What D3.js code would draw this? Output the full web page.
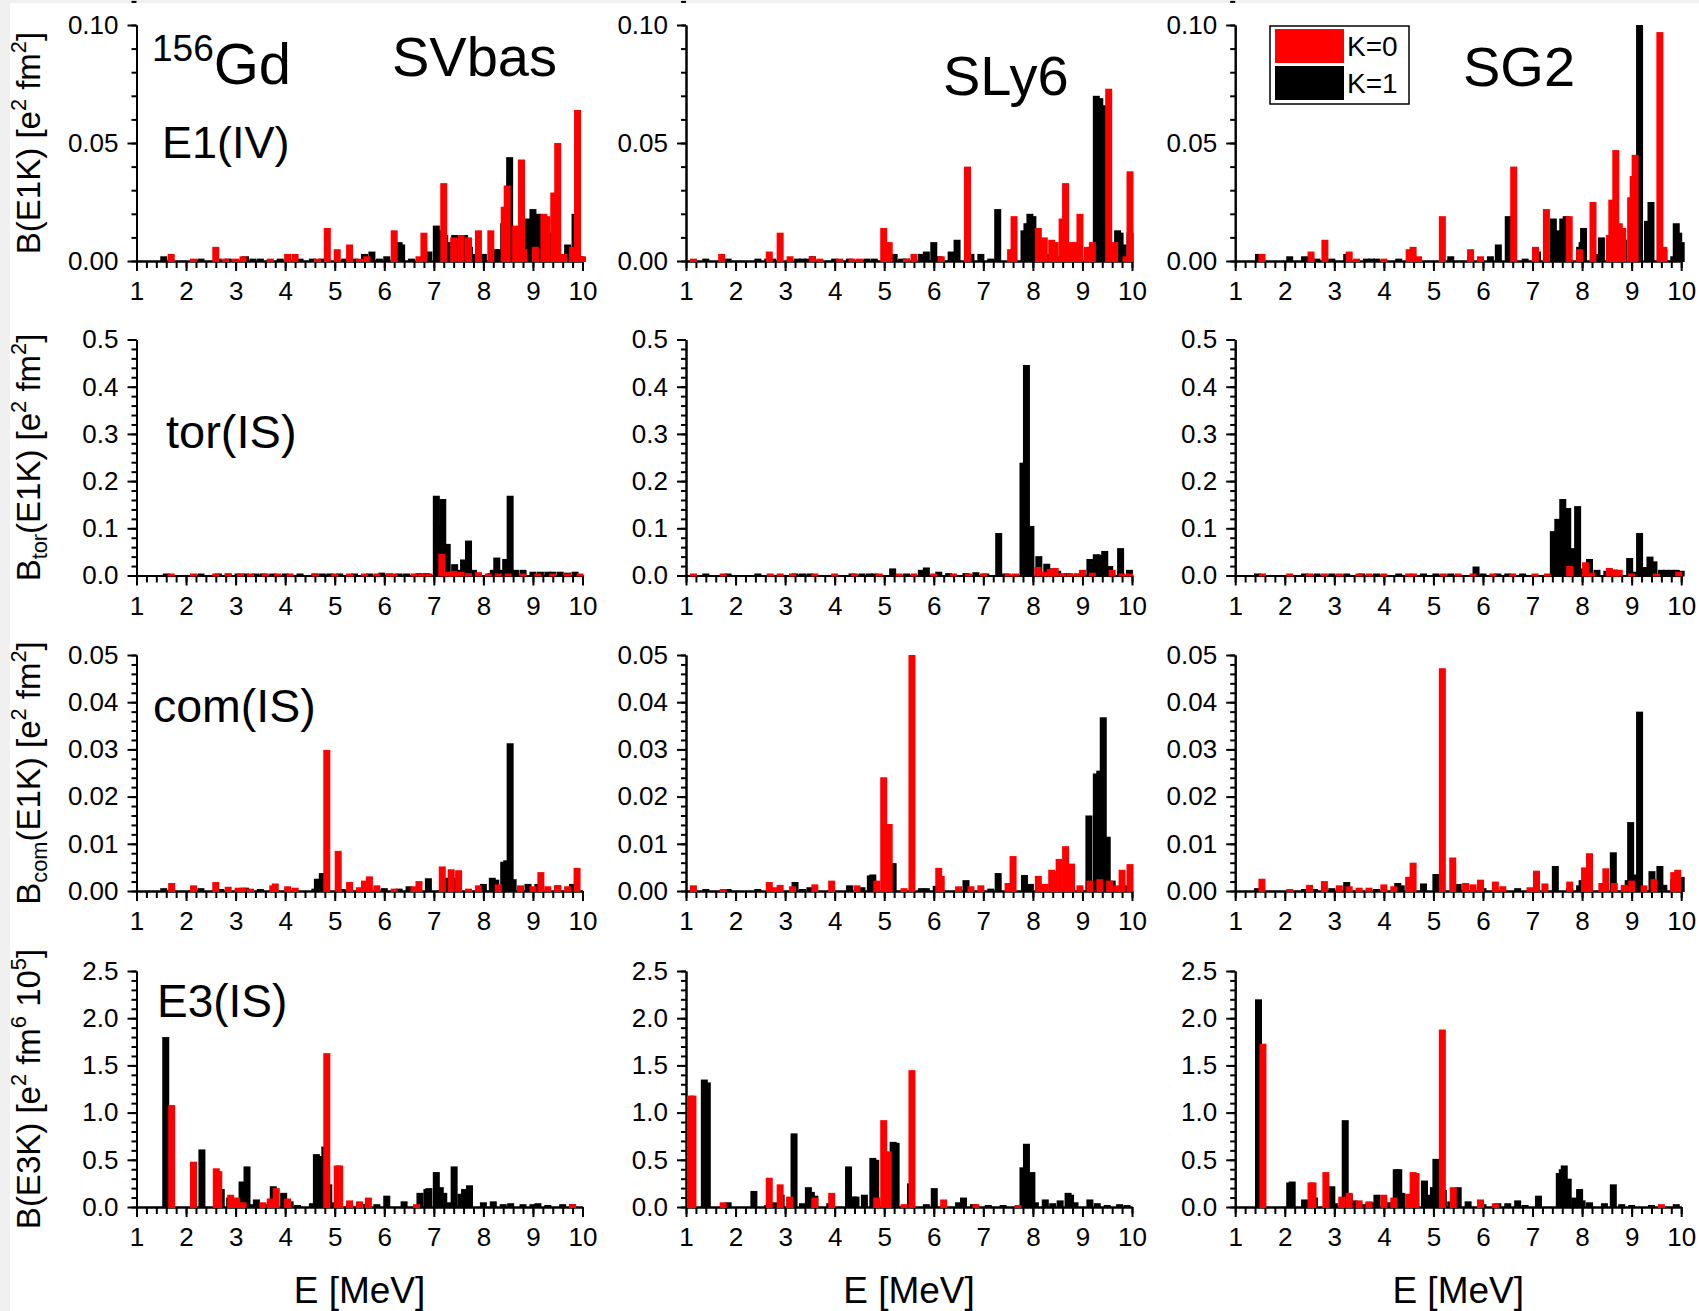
<!DOCTYPE html>
<html>
<head>
<meta charset="utf-8">
<script src="https://cdn.jsdelivr.net/npm/d3@7"></script>
<style>
body { margin: 0; background: #f0f0f0; }
svg { display: block; font-family: "Liberation Sans", Arial, sans-serif; }
</style>
</head>
<body>
<svg width="1699" height="1311"></svg>
<script>
'use strict';
// ---- data: [E (MeV), B] pairs, K=0 (red) and K=1 (black)
// row 1: B(E1K), isovector E1
let svbasE1K0 = [[1.7,.003],[2.15,.001],[2.6,.006],[2.8,.001],[3.0,.001],[3.15,.002],[3.7,.001],[4.05,.003],[4.2,.003],[4.65,.001],[4.85,.014],[5.05,.005],[5.3,.007],[5.5,.001],[5.65,.002],[6.2,.013],[6.7,.002],[6.8,.012],[7.2,.033],[7.4,.010],[7.55,.011],[7.7,.010],[7.9,.013],[8.15,.013],[8.42,.023],[8.48,.032],[8.65,.015],[8.77,.043],[8.82,.005],[9.05,.006],[9.22,.020],[9.28,.019],[9.42,.029],[9.5,.050],[9.62,.003],[9.8,.006],[9.9,.064],[10.0,.002]]
let svbasE1K1 = [[1.55,.002],[2.3,.001],[2.65,.001],[2.85,.001],[3.2,.002],[3.35,.001],[3.5,.001],[3.9,.001],[4.3,.001],[4.55,.001],[4.75,.001],[5.2,.001],[5.4,.001],[5.6,.003],[5.75,.004],[5.9,.001],[6.05,.002],[6.3,.008],[6.35,.007],[6.55,.001],[6.9,.004],[7.05,.015],[7.12,.013],[7.22,.011],[7.32,.008],[7.42,.011],[7.52,.004],[7.62,.011],[7.72,.006],[7.85,.003],[8.0,.003],[8.25,.005],[8.33,.005],[8.41,.016],[8.53,.044],[8.6,.006],[8.7,.005],[8.9,.018],[9.0,.022],[9.1,.020],[9.18,.019],[9.3,.011],[9.38,.012],[9.55,.002],[9.7,.007],[9.75,.006],[9.85,.020],[9.95,.002]]
let sly6E1K0 = [[1.15,.001],[1.72,.003],[2.68,.004],[2.9,.012],[3.1,.002],[3.55,.002],[3.7,.001],[4.1,.001],[4.35,.001],[4.5,.001],[4.99,.014],[5.1,.008],[5.45,.001],[5.6,.003],[6.15,.002],[6.68,.040],[7.55,.005],[7.62,.019],[8.11,.014],[8.23,.010],[8.38,.009],[8.45,.008],[8.59,.018],[8.66,.033],[8.78,.008],[8.85,.008],[8.95,.020],[9.1,.006],[9.2,.008],[9.53,.073],[9.65,.008],[9.88,.002],[9.96,.038]]
let sly6E1K1 = [[1.4,.001],[1.85,.001],[2.45,.001],[2.65,.001],[2.75,.001],[3.25,.001],[3.35,.001],[3.45,.001],[3.55,.002],[4.0,.001],[4.3,.001],[4.65,.001],[4.8,.001],[5.2,.003],[5.35,.001],[5.45,.001],[5.75,.003],[5.85,.004],[6.0,.008],[6.1,.002],[6.35,.004],[6.47,.009],[6.75,.003],[6.95,.003],[7.15,.001],[7.29,.022],[7.82,.013],[7.88,.016],[7.94,.020],[8.0,.019],[8.15,.003],[8.35,.003],[8.5,.002],[8.9,.004],[9.28,.070],[9.35,.069],[9.42,.066],[9.48,.045],[9.71,.013],[9.76,.012],[9.82,.007],[9.96,.012]]
let sg2E1K0 = [[1.54,.003],[2.53,.004],[2.81,.009],[3.3,.004],[3.45,.001],[4.0,.001],[4.51,.005],[4.59,.006],[4.7,.002],[5.18,.019],[5.75,.005],[5.95,.002],[6.62,.040],[7.06,.006],[7.28,.022],[7.74,.019],[7.95,.005],[8.22,.025],[8.55,.011],[8.6,.026],[8.68,.047],[8.75,.016],[8.82,.014],[8.98,.027],[9.03,.036],[9.07,.045],[9.57,.097],[9.65,.006]]
let sg2E1K1 = [[1.47,.003],[2.1,.002],[2.4,.002],[2.65,.001],[2.95,.001],[3.25,.003],[3.65,.001],[3.75,.001],[3.85,.001],[4.3,.001],[5.35,.002],[5.75,.002],[6.15,.002],[6.31,.007],[6.51,.019],[6.85,.001],[7.1,.004],[7.42,.018],[7.51,.013],[7.61,.018],[7.68,.019],[7.95,.006],[8.0,.008],[8.03,.014],[8.25,.003],[8.39,.010],[8.7,.003],[8.84,.009],[9.08,.014],[9.16,.100],[9.32,.017],[9.39,.025],[9.65,.005],[9.85,.002],[9.9,.016],[9.95,.012],[10.0,.008]]

// row 2: toroidal E1
let svbasTorK0 = [[1.7,.003],[2.15,.003],[2.6,.003],[2.85,.003],[3.1,.003],[3.3,.003],[3.6,.003],[3.85,.003],[4.1,.003],[4.6,.003],[5.0,.003],[5.3,.003],[5.6,.003],[5.85,.003],[6.1,.003],[6.2,.004],[6.6,.003],[6.75,.004],[6.9,.004],[7.16,.046],[7.3,.008],[7.4,.010],[7.55,.008],[7.7,.005],[7.9,.007],[8.1,.004],[8.3,.004],[8.5,.004],[8.8,.004],[9.1,.004],[9.4,.004],[9.7,.004],[9.95,.004]]
let svbasTorK1 = [[1.6,.002],[2.3,.002],[2.65,.002],[2.85,.002],[3.05,.002],[3.2,.003],[3.4,.002],[3.55,.002],[3.75,.002],[4.0,.002],[4.3,.003],[4.6,.003],[4.75,.004],[4.9,.004],[5.1,.003],[5.4,.002],[5.7,.002],[5.95,.006],[6.1,.003],[6.3,.003],[6.45,.004],[6.7,.005],[6.85,.005],[7.05,.169],[7.1,.106],[7.18,.162],[7.27,.067],[7.42,.024],[7.55,.012],[7.6,.034],[7.7,.074],[7.8,.012],[8.15,.005],[8.2,.012],[8.27,.038],[8.35,.012],[8.45,.035],[8.54,.169],[8.65,.012],[8.8,.012],[9.0,.008],[9.15,.008],[9.3,.008],[9.4,.008],[9.55,.008],[9.7,.006],[9.85,.008]]
let sly6TorK0 = [[1.15,.003],[1.75,.003],[2.7,.003],[2.9,.003],[3.15,.003],[3.6,.003],[4.0,.003],[4.4,.003],[4.9,.003],[5.3,.003],[5.6,.003],[6.0,.003],[6.4,.003],[6.7,.003],[7.0,.003],[7.5,.003],[7.65,.003],[8.1,.018],[8.25,.008],[8.35,.014],[8.45,.016],[8.6,.005],[8.75,.005],[8.9,.005],[9.0,.012],[9.2,.006],[9.6,.012],[9.8,.004],[9.95,.004]]
let sly6TorK1 = [[1.4,.002],[1.85,.002],[2.45,.002],[3.2,.002],[3.35,.002],[3.5,.002],[4.35,.003],[4.55,.003],[4.7,.004],[4.8,.004],[5.17,.015],[5.45,.003],[5.75,.012],[5.85,.017],[6.1,.008],[6.3,.005],[6.65,.005],[6.85,.007],[7.05,.003],[7.31,.090],[7.45,.004],[7.8,.239],[7.87,.446],[7.96,.105],[8.12,.041],[8.28,.025],[8.4,.015],[8.5,.010],[8.7,.005],[9.15,.035],[9.28,.045],[9.35,.044],[9.45,.052],[9.55,.020],[9.77,.058],[9.95,.012]]
let sg2TorK0 = [[1.55,.003],[2.1,.003],[2.5,.003],[2.8,.003],[3.1,.003],[3.5,.003],[3.7,.003],[4.0,.003],[4.5,.003],[4.6,.003],[5.2,.003],[5.5,.003],[5.8,.003],[6.2,.003],[6.6,.003],[7.05,.003],[7.3,.003],[7.75,.020],[8.07,.028],[8.2,.006],[8.55,.016],[8.65,.013],[8.75,.012],[9.0,.004],[9.5,.004],[9.95,.008]]
let sg2TorK1 = [[1.45,.002],[2.4,.002],[2.65,.002],[2.95,.002],[3.25,.003],[3.55,.002],[3.85,.002],[4.3,.003],[4.8,.002],[5.05,.004],[5.35,.004],[5.86,.019],[6.0,.004],[6.3,.004],[6.5,.004],[6.8,.003],[7.42,.094],[7.51,.120],[7.61,.162],[7.71,.143],[7.82,.058],[7.91,.147],[8.05,.015],[8.15,.035],[8.3,.012],[8.5,.010],[8.96,.037],[9.05,.008],[9.16,.090],[9.3,.018],[9.37,.040],[9.45,.030],[9.6,.012],[9.7,.012],[9.8,.012],[9.9,.012],[10.0,.010]]

// row 3: compressional E1
let svbasComK0 = [[1.71,.0017],[2.15,.0012],[2.6,.0019],[2.85,.0009],[3.05,.0007],[3.15,.0007],[3.3,.0005],[3.75,.0012],[3.8,.0016],[4.05,.0010],[4.2,.0007],[4.84,.0299],[5.07,.0085],[5.3,.0019],[5.5,.0008],[5.6,.0022],[5.7,.0031],[5.85,.0012],[6.2,.0005],[6.6,.0010],[6.7,.0021],[7.17,.0052],[7.35,.0046],[7.5,.0044],[7.7,.0005],[7.9,.0012],[8.3,.0014],[8.75,.0012],[9.0,.0010],[9.16,.0040],[9.3,.0010],[9.5,.0012],[9.7,.0010],[9.89,.0049]]
let svbasComK1 = [[1.55,.0006],[2.3,.0006],[2.7,.0004],[3.2,.0007],[3.5,.0004],[4.6,.0005],[4.65,.0026],[4.75,.0038],[4.8,.0012],[5.15,.0004],[6.0,.0006],[6.3,.0005],[6.5,.0010],[6.89,.0027],[7.3,.0028],[7.4,.0028],[8.0,.0015],[8.18,.0028],[8.25,.0024],[8.41,.0062],[8.47,.0065],[8.54,.0313],[8.6,.0025],[8.9,.0015],[9.1,.0015],[9.5,.0012],[9.8,.0015]]
let sly6ComK0 = [[1.15,.0012],[1.75,.0003],[2.68,.0019],[2.8,.0008],[2.9,.0013],[3.15,.0010],[3.6,.0014],[3.94,.0022],[4.45,.0012],[4.85,.0022],[4.99,.0241],[5.1,.0142],[5.4,.0006],[5.56,.050],[6.1,.0049],[6.15,.0032],[6.5,.0010],[6.75,.0010],[6.95,.0012],[7.5,.0017],[7.6,.0074],[8.11,.0032],[8.25,.0015],[8.38,.0045],[8.45,.0042],[8.53,.0068],[8.66,.0095],[8.78,.0058],[8.95,.0012],[9.15,.0022],[9.35,.0025],[9.55,.0022],[9.7,.0012],[9.8,.0045],[9.96,.0057]]
let sly6ComK1 = [[1.4,.0004],[1.85,.0003],[2.45,.0003],[3.2,.0019],[3.35,.0004],[3.5,.0008],[4.3,.0012],[4.55,.0008],[4.72,.0033],[4.77,.0035],[5.18,.0059],[5.75,.0006],[5.85,.0006],[6.05,.0011],[6.65,.0023],[7.15,.0005],[7.3,.0038],[7.83,.0034],[7.95,.0015],[8.2,.0011],[9.13,.0160],[9.28,.0249],[9.35,.0255],[9.42,.0368],[9.5,.0115],[9.6,.0022],[9.9,.0012]]
let sg2ComK0 = [[1.54,.0026],[2.1,.0004],[2.5,.0013],[2.8,.0021],[3.1,.0012],[3.3,.0010],[3.5,.0007],[3.7,.0007],[4.0,.0014],[4.2,.0010],[4.5,.0030],[4.59,.0060],[5.18,.0472],[5.39,.0071],[5.65,.0017],[5.8,.0014],[5.95,.0024],[6.25,.0020],[6.4,.0010],[6.95,.0008],[7.08,.0043],[7.25,.0016],[7.75,.0020],[8.05,.0050],[8.15,.0080],[8.4,.0017],[8.48,.0048],[8.65,.0017],[8.85,.0013],[9.0,.0022],[9.25,.0012],[9.45,.0025],[9.85,.0040],[9.93,.0045]]
let sg2ComK1 = [[1.45,.0006],[2.4,.0004],[2.6,.0003],[2.95,.0006],[3.25,.0019],[3.85,.0004],[4.28,.0017],[4.35,.0012],[4.8,.0016],[5.05,.0036],[5.5,.0015],[6.0,.0006],[6.7,.0006],[7.46,.0053],[7.75,.0006],[7.95,.0012],[8.0,.0023],[8.63,.0082],[8.93,.0023],[8.98,.0146],[9.05,.0035],[9.16,.0380],[9.41,.0042],[9.57,.0053],[9.65,.0013],[9.85,.0025],[9.9,.0033],[10.0,.0030]]

// row 4: B(E3K), isoscalar E3 (units e^2 fm^6 10^5)
let svbasE3K0 = [[1.71,1.08],[2.15,0.48],[2.61,0.41],[2.66,0.38],[2.9,0.13],[3.02,0.10],[3.15,0.05],[3.55,0.05],[3.7,0.09],[3.82,0.20],[4.05,0.09],[4.84,1.63],[5.05,0.44],[5.1,0.44],[5.3,0.07],[5.5,0.06],[5.68,0.10],[6.65,0.03],[9.8,0.03]]
let svbasE3K1 = [[1.59,1.80],[2.32,0.61],[2.63,0.25],[2.71,0.19],[2.88,0.10],[2.95,0.09],[3.13,0.27],[3.23,0.43],[3.3,0.03],[3.42,0.08],[3.6,0.03],[3.76,0.22],[3.8,0.19],[3.97,0.15],[4.1,0.06],[4.25,0.02],[4.55,0.04],[4.63,0.56],[4.7,0.54],[4.8,0.64],[4.88,0.24],[5.0,0.05],[5.3,0.03],[5.6,0.03],[5.85,0.03],[6.05,0.12],[6.4,0.06],[6.72,0.15],[6.86,0.19],[6.9,0.20],[7.05,0.37],[7.13,0.21],[7.2,0.15],[7.3,0.05],[7.41,0.43],[7.55,0.14],[7.62,0.19],[7.66,0.17],[7.72,0.23],[8.0,0.05],[8.2,0.06],[8.4,0.03],[8.55,0.04],[8.8,0.03],[9.0,0.03],[9.1,0.04],[9.3,0.02],[9.6,0.03],[9.8,0.03]]
let sly6E3K0 = [[1.09,1.18],[1.14,1.18],[1.75,0.05],[2.68,0.31],[2.9,0.24],[3.09,0.11],[3.6,0.10],[3.94,0.15],[4.85,0.10],[4.99,0.92],[5.08,0.59],[5.4,0.03],[5.56,1.45],[6.2,0.08],[6.85,0.03],[7.7,0.02]]
let sly6E3K1 = [[1.37,1.35],[1.43,1.32],[1.85,0.05],[2.37,0.17],[2.65,0.02],[2.8,0.05],[2.92,0.13],[3.18,0.78],[3.35,0.04],[3.47,0.21],[3.53,0.16],[3.6,0.12],[3.9,0.04],[4.28,0.43],[4.38,0.11],[4.43,0.11],[4.6,0.13],[4.77,0.52],[4.83,0.50],[5.0,0.07],[5.1,0.06],[5.18,0.69],[5.24,0.68],[5.53,0.25],[5.85,0.03],[6.01,0.20],[6.5,0.05],[6.6,0.10],[6.8,0.03],[7.1,0.02],[7.4,0.02],[7.8,0.42],[7.87,0.67],[7.98,0.37],[8.05,0.05],[8.25,0.08],[8.4,0.04],[8.55,0.07],[8.71,0.15],[8.76,0.13],[8.85,0.05],[9.15,0.08],[9.3,0.04],[9.5,0.02],[9.75,0.03],[9.9,0.02]]
let sg2E3K0 = [[1.56,1.73],[2.53,0.26],[2.57,0.26],[2.83,0.37],[3.15,0.11],[3.3,0.15],[3.5,0.07],[3.7,0.06],[4.0,0.13],[4.2,0.10],[4.5,0.14],[4.59,0.37],[4.65,0.36],[5.18,1.88],[5.4,0.21],[5.95,0.08],[6.25,0.04],[9.6,0.03]]
let sg2E3K1 = [[1.47,2.20],[2.1,0.26],[2.15,0.27],[2.4,0.08],[2.6,0.10],[2.95,0.22],[3.0,0.04],[3.22,0.92],[3.3,0.14],[3.4,0.07],[3.6,0.03],[3.7,0.05],[3.8,0.05],[3.86,0.13],[4.1,0.05],[4.25,0.40],[4.3,0.40],[4.36,0.15],[4.55,0.04],[4.82,0.28],[4.9,0.13],[5.0,0.21],[5.05,0.51],[5.15,0.18],[5.2,0.18],[5.35,0.06],[5.5,0.21],[5.7,0.06],[6.0,0.03],[6.3,0.04],[6.5,0.04],[6.7,0.07],[6.85,0.02],[7.12,0.12],[7.54,0.36],[7.6,0.40],[7.64,0.44],[7.72,0.30],[7.85,0.10],[7.95,0.19],[8.0,0.07],[8.15,0.05],[8.45,0.04],[8.63,0.24],[8.8,0.03],[9.0,0.02],[9.4,0.02],[9.9,0.03]]

// categories, axis ranges, labels
let models = ["SVbas", "SLy6", "SG2"]
let rowTags = ["E1(IV)", "tor(IS)", "com(IS)", "E3(IS)"]
let yMax = [0.10, 0.5, 0.05, 2.5]
let yMajor = [0.05, 0.1, 0.01, 0.5]
let yFormat = [".2f", ".1f", ".2f", ".1f"]
let eTicks = [1, 2, 3, 4, 5, 6, 7, 8, 9, 10]
let legendKeys = ["K=0", "K=1"]
let kColors = ["#ff0000", "#000000"]

let spectra = [
	[[svbasE1K0, svbasE1K1], [sly6E1K0, sly6E1K1], [sg2E1K0, sg2E1K1]],
	[[svbasTorK0, svbasTorK1], [sly6TorK0, sly6TorK1], [sg2TorK0, sg2TorK1]],
	[[svbasComK0, svbasComK1], [sly6ComK0, sly6ComK1], [sg2ComK0, sg2ComK1]],
	[[svbasE3K0, svbasE3K1], [sly6E3K0, sly6E3K1], [sg2E3K0, sg2E3K1]]]

// y titles as [text, 'n'|'sup'|'sub'] runs
let yTitles = [
	[["B(E1K) [e","n"],["2","sup"],[" fm","n"],["2","sup"],["]","n"]],
	[["B","n"],["tor","sub"],["(E1K) [e","n"],["2","sup"],[" fm","n"],["2","sup"],["]","n"]],
	[["B","n"],["com","sub"],["(E1K) [e","n"],["2","sup"],[" fm","n"],["2","sup"],["]","n"]],
	[["B(E3K) [e","n"],["2","sup"],[" fm","n"],["6","sup"],[" 10","n"],["5","sup"],["]","n"]]]

// layout
let eSvg = d3.select("svg")
let colX = [136.5, 686, 1235.2]
let rowBase = [261, 575.5, 891, 1207]
let plotW = 446, plotH = 236, barW = 7

eSvg.append("rect").attr("x", 10).attr("y", 3)
	.attr("width", 1689).attr("height", 1308).attr("fill", "#fff")

let xs = d3.scaleLinear().domain([1, 10]).range([0, plotW])
let eMinor = d3.range(10, 101, 2).map(d => d / 10)

function richText(sel, runs, fs) {
	// superscripts / subscripts via baseline-shift
	runs.forEach(([t, kind]) => {
		let ts = sel.append("tspan").text(t)
		if (kind !== "n")
			ts.attr("font-size", fs * 0.66)
				.attr("baseline-shift", kind === "sup" ? fs * 0.42 : -fs * 0.22)})}

function styleAxis(a, fs) {
	a.select(".domain").attr("stroke-width", 2)
	a.selectAll(".tick line").attr("stroke-width", 2)
	if (!fs) { a.selectAll(".tick text").remove(); return }
	a.selectAll(".tick text").attr("font-size", fs).attr("fill", "#000")
		.attr("font-family", "Liberation Sans, Arial, sans-serif")}

function drawPanel(r, c) {
	let g = eSvg.append("g")
		.attr("transform", `translate(${colX[c]},${rowBase[r] - plotH})`)
	let ys = d3.scaleLinear().domain([0, yMax[r]]).range([plotH, 0])
	let yMaj = d3.range(0, 6).map(i => i * yMajor[r])
	let yMin = d3.range(0, 26).map(i => i * yMajor[r] / 5)

	// y axis: minor + major ticks pointing out
	styleAxis(g.append("g").call(d3.axisLeft(ys).tickValues(yMin)
		.tickSize(5).tickSizeOuter(0)), 0)
	styleAxis(g.append("g").call(d3.axisLeft(ys).tickValues(yMaj)
		.tickSize(9).tickSizeOuter(0).tickPadding(9)
		.tickFormat(d3.format(yFormat[r]))), 26)

	// x axis
	let ax = g.append("g").attr("transform", `translate(0,${plotH})`)
	styleAxis(ax.call(d3.axisBottom(xs).tickValues(eMinor)
		.tickSize(7).tickSizeOuter(0)), 0)
	let ax2 = g.append("g").attr("transform", `translate(0,${plotH})`)
	styleAxis(ax2.call(d3.axisBottom(xs).tickValues(eTicks)
		.tickSize(10).tickSizeOuter(0).tickPadding(11).tickFormat(d3.format("d"))), 26)

	// bars: K=1 first, K=0 drawn on top
	let clip = `clip-${r}-${c}`
	g.append("clipPath").attr("id", clip).append("rect")
		.attr("x", -barW).attr("y", 0).attr("width", plotW + 2 * barW).attr("height", plotH + 3)
	let bars = g.append("g").attr("clip-path", `url(#${clip})`)
	;[1, 0].forEach(k => {
		bars.append("g").attr("fill", kColors[k])
			.selectAll("rect")
			.data(spectra[r][c][k])
			.enter().append("rect")
			.attr("x", d => xs(d[0]) - barW / 2)
			.attr("width", barW)
			.attr("y", d => Math.min(ys(d[1]), plotH - 2))
			.attr("height", d => Math.max(plotH - ys(d[1]), 2) + 1)})}

for (let r = 0; r < 4; r++)
	for (let c = 0; c < 3; c++) drawPanel(r, c)

// y titles
yTitles.forEach((runs, r) => {
	let t = eSvg.append("text")
		.attr("transform", `translate(40,${rowBase[r] - plotH / 2}) rotate(-90)`)
		.attr("text-anchor", "middle").attr("font-size", 33)
	richText(t, runs, 33)})

// x titles
colX.forEach(x => {
	eSvg.append("text").attr("x", x + plotW / 2).attr("y", 1303)
		.attr("text-anchor", "middle").attr("font-size", 37).text("E [MeV]")})

// nucleus and model names
let gd = eSvg.append("text").attr("x", 152).attr("y", 84)
gd.append("tspan").attr("font-size", 37).attr("baseline-shift", 23).text("156")
gd.append("tspan").attr("font-size", 58).text("Gd")

let modelPos = [[392, 76], [943, 95], [1463, 86]]
models.forEach((m, i) => {
	eSvg.append("text").attr("x", modelPos[i][0]).attr("y", modelPos[i][1])
		.attr("font-size", 56).text(m)})

let tagPos = [[162, 158], [166, 448], [153, 722], [157, 1017]]
let tagSize = [45, 47, 46.5, 46]
rowTags.forEach((t, i) => {
	eSvg.append("text").attr("x", tagPos[i][0]).attr("y", tagPos[i][1])
		.attr("font-size", tagSize[i]).text(t)})

// legend
let eLeg = eSvg.append("g").attr("transform", "translate(1270,26)")
eLeg.append("rect").attr("width", 139).attr("height", 78)
	.attr("fill", "#fff").attr("stroke", "#000").attr("stroke-width", 1.5)
legendKeys.forEach((k, i) => {
	eLeg.append("rect").attr("x", 5).attr("y", 3 + i * 37)
		.attr("width", 69).attr("height", 34).attr("fill", kColors[i])
	eLeg.append("text").attr("x", 77).attr("y", 30 + i * 37)
		.attr("font-size", 28).text(k)})
</script>
</body>
</html>
